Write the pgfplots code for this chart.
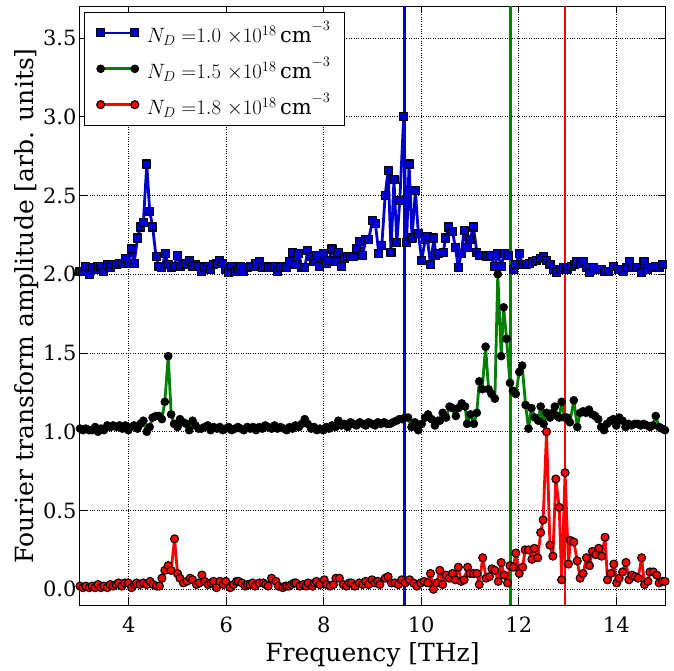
\documentclass[border=0pt]{standalone}
\usepackage{fontspec}
\setmainfont{DejaVu Serif}
\usepackage{pgfplots}
\pgfplotsset{compat=1.18}
\definecolor{mblue}{rgb}{0,0,0.8}
\definecolor{mgreen}{rgb}{0,0.5,0}
\definecolor{mred}{rgb}{1,0,0}
\begin{document}
\begin{tikzpicture}
\begin{axis}[
  scale only axis,
  width=585pt, height=598.5pt,
  xmin=3, xmax=15, ymin=-0.1, ymax=3.7,
  xtick={4,6,8,10,12,14},
  ytick={0,0.5,1,1.5,2,2.5,3,3.5},
  yticklabel style={/pgf/number format/.cd, fixed, fixed zerofill, precision=1},
  /pgf/number format/assume math mode=true,
  tick label style={font=\fontsize{21}{24}\selectfont},
  label style={font=\fontsize{25}{29}\selectfont},
  xticklabel style={yshift=-8pt},
  xlabel={Frequency [THz]},
  ylabel={Fourier transform amplitude [arb. units]},
  xlabel style={yshift=-3pt},
  ylabel style={yshift=-2pt},
  major tick length=7pt,
  tick style={black, line width=0.9pt},
  axis line style={line width=1pt},
  grid=major,
  grid style={black, dotted, line width=0.9pt},
  legend style={at={(0.007,0.991)}, anchor=north west, draw=black, line width=1.2pt,
    font=\fontsize{21}{24}\selectfont, row sep=9pt, inner xsep=12pt, inner ysep=7pt,
    cells={anchor=west}},
  legend image code/.code={\draw[mark repeat=1,#1] plot coordinates {(0cm,0cm) (1.2cm,0cm)};},
  every axis plot/.append style={line width=2.8pt, line join=round},
]
\addplot[color=mblue, mark=square*, mark size=4pt, mark options={fill=mblue, draw=black, line width=1.1pt}] coordinates {
(3.00,2.02)(3.06,2.02)(3.12,2.05)(3.19,2.00)(3.25,2.04)(3.31,2.03)(3.37,2.05)(3.43,2.05)(3.49,2.02)(3.56,2.06)
(3.62,2.04)(3.68,2.06)(3.75,2.06)(3.81,2.07)(3.87,2.07)(3.93,2.10)(3.99,2.07)(4.05,2.16)(4.11,2.07)(4.18,2.23)
(4.24,2.30)(4.30,2.33)(4.37,2.70)(4.43,2.40)(4.49,2.30)(4.56,2.11)(4.62,2.05)(4.68,2.04)(4.75,2.13)(4.81,2.06)
(4.87,2.04)(4.93,2.05)(5.00,2.12)(5.06,2.05)(5.12,2.06)(5.18,2.07)(5.24,2.09)(5.31,2.05)(5.37,2.06)(5.43,2.05)
(5.49,2.02)(5.56,2.04)(5.62,2.05)(5.68,2.03)(5.74,2.06)(5.81,2.07)(5.87,2.09)(5.93,2.07)(5.99,2.03)(6.05,2.01)
(6.11,2.05)(6.18,2.02)(6.24,2.03)(6.30,2.05)(6.36,2.02)(6.43,2.04)(6.49,2.05)(6.55,2.05)(6.61,2.07)(6.68,2.08)
(6.74,2.04)(6.80,2.05)(6.86,2.04)(6.93,2.04)(6.99,2.05)(7.05,2.02)(7.11,2.04)(7.18,2.05)(7.24,2.04)(7.30,2.08)
(7.36,2.14)(7.42,2.06)(7.49,2.13)(7.55,2.04)(7.61,2.04)(7.67,2.15)(7.74,2.11)(7.80,2.08)(7.86,2.12)(7.92,2.05)
(7.99,2.13)(8.05,2.07)(8.11,2.09)(8.17,2.16)(8.24,2.08)(8.30,2.14)(8.36,2.05)(8.42,2.10)(8.49,2.11)(8.55,2.11)
(8.61,2.11)(8.67,2.16)(8.74,2.21)(8.80,2.12)(8.86,2.22)(8.92,2.22)(9.00,2.34)(9.06,2.32)(9.13,2.13)(9.19,2.18)
(9.26,2.50)(9.32,2.66)(9.38,2.14)(9.44,2.60)(9.50,2.20)(9.56,2.47)(9.64,3.00)(9.70,2.20)(9.75,2.70)(9.81,2.23)
(9.88,2.53)(9.94,2.26)(10.01,2.09)(10.08,2.22)(10.12,2.24)(10.19,2.06)(10.26,2.23)(10.30,2.12)(10.36,2.13)(10.45,2.14)
(10.50,2.23)(10.56,2.30)(10.64,2.27)(10.70,2.17)(10.76,2.04)(10.82,2.13)(10.88,2.28)(10.94,2.17)(11.00,2.22)(11.07,2.30)
(11.14,2.14)(11.19,2.12)(11.24,2.12)(11.34,2.11)(11.42,2.12)(11.51,2.05)(11.57,2.13)(11.64,2.05)(11.70,2.13)(11.79,2.12)
(11.89,2.03)(11.94,2.06)(12.01,2.13)(12.08,2.06)(12.15,2.06)(12.22,2.07)(12.28,2.08)(12.37,2.09)(12.44,2.10)(12.50,2.11)
(12.57,2.09)(12.64,2.06)(12.71,2.03)(12.78,2.01)(12.85,2.03)(12.91,2.04)(12.99,2.03)(13.08,2.05)(13.14,2.06)(13.19,2.08)
(13.26,2.07)(13.32,2.08)(13.39,2.04)(13.45,2.01)(13.53,2.04)(13.61,2.03)(13.70,2.03)(13.77,2.02)(13.84,2.02)(13.94,2.05)
(14.04,2.03)(14.14,2.02)(14.21,2.04)(14.27,2.08)(14.34,2.04)(14.42,2.04)(14.51,2.01)(14.57,2.08)(14.64,2.03)(14.73,2.04)
(14.81,2.05)(14.88,2.04)(14.95,2.06)
};
\addlegendentry{\hspace{6pt}$N_D\;{=}1.0\;{\times}10^{18}\,\mathrm{cm}^{-3}$}
\addplot[color=mgreen, mark=*, mark size=4pt, mark options={fill=black, draw=black, line width=0.6pt}] coordinates {
(3.00,1.02)(3.06,1.01)(3.12,1.02)(3.19,1.01)(3.25,1.01)(3.31,1.03)(3.37,1.00)(3.43,1.02)(3.49,1.01)(3.56,1.04)
(3.62,1.03)(3.68,1.04)(3.75,1.03)(3.81,1.04)(3.87,1.02)(3.93,1.04)(3.99,1.01)(4.05,1.03)(4.11,1.04)(4.18,1.02)
(4.24,1.05)(4.30,1.07)(4.37,1.00)(4.43,1.03)(4.49,1.09)(4.56,1.10)(4.62,1.10)(4.68,1.08)(4.74,1.19)(4.81,1.48)
(4.87,1.11)(4.93,1.05)(5.00,1.03)(5.05,1.08)(5.12,1.06)(5.18,1.05)(5.24,1.01)(5.31,1.07)(5.37,1.04)(5.43,1.02)
(5.49,1.02)(5.56,1.03)(5.62,1.04)(5.68,1.01)(5.74,1.03)(5.81,1.02)(5.87,1.03)(5.93,1.01)(5.99,1.02)(6.05,1.03)
(6.11,1.01)(6.18,1.02)(6.24,1.03)(6.30,1.02)(6.36,1.01)(6.43,1.03)(6.49,1.02)(6.55,1.03)(6.61,1.01)(6.68,1.03)
(6.74,1.02)(6.80,1.04)(6.86,1.03)(6.93,1.02)(6.99,1.04)(7.05,1.02)(7.11,1.03)(7.18,1.02)(7.24,1.01)(7.30,1.03)
(7.36,1.02)(7.42,1.04)(7.49,1.03)(7.55,1.05)(7.61,1.08)(7.67,1.05)(7.74,1.02)(7.80,1.03)(7.86,1.01)(7.92,1.02)
(7.99,1.01)(8.05,1.03)(8.11,1.02)(8.17,1.04)(8.24,1.03)(8.30,1.07)(8.36,1.04)(8.42,1.05)(8.49,1.03)(8.55,1.06)
(8.61,1.05)(8.67,1.04)(8.74,1.06)(8.80,1.05)(8.86,1.04)(8.92,1.06)(8.99,1.05)(9.05,1.04)(9.11,1.06)(9.17,1.05)
(9.24,1.06)(9.30,1.05)(9.36,1.05)(9.42,1.06)(9.49,1.07)(9.55,1.08)(9.61,1.08)(9.67,1.09)(9.73,1.09)(9.80,1.03)
(9.87,1.06)(9.94,1.01)(10.01,1.05)(10.08,1.09)(10.14,1.11)(10.21,1.08)(10.28,1.04)(10.34,1.07)(10.38,1.07)(10.44,1.12)
(10.51,1.09)(10.58,1.16)(10.64,1.15)(10.71,1.10)(10.76,1.15)(10.83,1.18)(10.90,1.16)(10.94,1.05)(11.01,1.11)(11.08,1.05)
(11.14,1.12)(11.19,1.32)(11.25,1.27)(11.32,1.54)(11.38,1.27)(11.44,1.24)(11.51,1.21)(11.57,2.00)(11.64,1.48)(11.69,1.79)
(11.75,1.59)(11.82,1.31)(11.88,1.26)(11.94,1.24)(12.01,1.38)(12.07,1.42)(12.14,1.17)(12.20,1.02)(12.26,1.15)(12.33,1.09)
(12.40,1.07)(12.45,1.16)(12.51,1.05)(12.57,1.12)(12.64,1.09)(12.70,1.12)(12.74,1.16)(12.79,1.10)(12.83,1.09)(12.88,1.19)
(12.94,1.09)(12.99,1.09)(13.05,1.06)(13.13,1.20)(13.20,1.03)(13.26,1.12)(13.32,1.13)(13.38,1.12)(13.44,1.14)(13.51,1.11)
(13.57,1.10)(13.63,1.08)(13.69,1.03)(13.75,1.01)(13.81,1.05)(13.88,1.07)(13.94,1.08)(14.00,1.04)(14.06,1.09)(14.13,1.07)
(14.19,1.03)(14.25,1.05)(14.31,1.04)(14.38,1.05)(14.44,1.05)(14.50,1.04)(14.56,1.05)(14.63,1.04)(14.69,1.03)(14.75,1.04)
(14.81,1.10)(14.88,1.03)(14.94,1.02)(15.00,1.01)
};
\addlegendentry{\hspace{6pt}$N_D\;{=}1.5\;{\times}10^{18}\,\mathrm{cm}^{-3}$}
\addplot[color=mred, mark=*, mark size=4pt, mark options={fill=mred, draw=black, line width=1.1pt}] coordinates {
(3.00,0.02)(3.06,0.01)(3.12,0.02)(3.19,0.01)(3.25,0.02)(3.31,0.01)(3.37,0.03)(3.43,0.01)(3.49,0.02)(3.56,0.01)
(3.62,0.03)(3.68,0.02)(3.74,0.03)(3.79,0.04)(3.86,0.02)(3.92,0.04)(3.99,0.04)(4.06,0.01)(4.12,0.03)(4.16,0.04)
(4.23,0.03)(4.30,0.04)(4.37,0.03)(4.44,0.05)(4.50,0.03)(4.57,0.02)(4.63,0.02)(4.68,0.07)(4.74,0.12)(4.81,0.15)
(4.87,0.12)(4.94,0.32)(5.00,0.10)(5.05,0.07)(5.12,0.04)(5.19,0.05)(5.26,0.07)(5.31,0.06)(5.39,0.03)(5.45,0.04)
(5.50,0.09)(5.56,0.05)(5.63,0.03)(5.69,0.04)(5.74,0.05)(5.80,0.01)(5.87,0.05)(5.94,0.03)(5.99,0.05)(6.08,0.01)
(6.15,0.03)(6.21,0.05)(6.25,0.05)(6.32,0.04)(6.39,0.02)(6.44,0.03)(6.49,0.03)(6.54,0.04)(6.59,0.02)(6.68,0.04)
(6.76,0.04)(6.81,0.03)(6.86,0.02)(6.93,0.07)(7.02,0.05)(7.07,0.02)(7.16,0.01)(7.21,0.02)(7.24,0.02)(7.29,0.02)
(7.34,0.03)(7.39,0.04)(7.43,0.04)(7.51,0.02)(7.58,0.03)(7.64,0.02)(7.68,0.04)(7.77,0.02)(7.81,0.04)(7.85,0.05)
(7.92,0.03)(8.01,0.06)(8.06,0.03)(8.13,0.02)(8.20,0.03)(8.25,0.07)(8.32,0.07)(8.40,0.03)(8.47,0.02)(8.52,0.04)
(8.57,0.04)(8.64,0.02)(8.73,0.04)(8.80,0.03)(8.86,0.05)(8.92,0.03)(8.99,0.06)(9.05,0.04)(9.11,0.05)(9.15,0.03)
(9.26,0.07)(9.32,0.08)(9.39,0.04)(9.46,0.04)(9.53,0.03)(9.60,0.06)(9.67,0.04)(9.76,0.06)(9.84,0.04)(9.91,0.02)
(9.99,0.04)(10.06,0.05)(10.13,0.04)(10.19,0.10)(10.25,0.00)(10.32,0.04)(10.38,0.12)(10.44,0.03)(10.51,0.09)(10.58,0.07)
(10.64,0.10)(10.70,0.06)(10.76,0.14)(10.82,0.05)(10.88,0.06)(10.95,0.14)(11.00,0.10)(11.07,0.10)(11.14,0.10)(11.19,0.03)
(11.26,0.20)(11.33,0.07)(11.40,0.08)(11.45,0.13)(11.51,0.12)(11.58,0.05)(11.64,0.17)(11.70,0.09)(11.77,0.04)(11.82,0.15)
(11.89,0.14)(11.94,0.23)(12.01,0.10)(12.08,0.14)(12.13,0.25)(12.20,0.25)(12.27,0.19)(12.32,0.26)(12.39,0.20)(12.45,0.36)
(12.50,0.44)(12.57,1.00)(12.64,0.28)(12.70,0.21)(12.76,0.70)(12.83,0.52)(12.88,0.06)(12.95,0.74)(13.02,0.16)(13.06,0.31)
(13.13,0.30)(13.20,0.18)(13.26,0.07)(13.32,0.10)(13.39,0.20)(13.45,0.15)(13.51,0.24)(13.58,0.22)(13.64,0.26)(13.70,0.21)
(13.77,0.33)(13.82,0.06)(13.89,0.10)(13.95,0.16)(14.01,0.04)(14.06,0.07)(14.13,0.11)(14.20,0.17)(14.26,0.06)(14.32,0.09)
(14.39,0.08)(14.45,0.07)(14.52,0.20)(14.58,0.03)(14.65,0.05)(14.69,0.11)(14.76,0.11)(14.83,0.09)(14.88,0.04)(14.95,0.05)
(15.00,0.05)
};
\addlegendentry{\hspace{6pt}$N_D\;{=}1.8\;{\times}10^{18}\,\mathrm{cm}^{-3}$}
\addplot[color=mblue, line width=2.8pt, forget plot] coordinates {(9.65,-0.1)(9.65,3.7)};
\addplot[color=mgreen, line width=2.8pt, forget plot] coordinates {(11.83,-0.1)(11.83,3.7)};
\addplot[color=mred, line width=2.8pt, forget plot] coordinates {(12.95,-0.1)(12.95,3.7)};
\end{axis}
\path (current axis.south west) ++(-80pt,-59pt) rectangle ([shift={(9pt,6.5pt)}]current axis.north east);
\end{tikzpicture}
\end{document}
